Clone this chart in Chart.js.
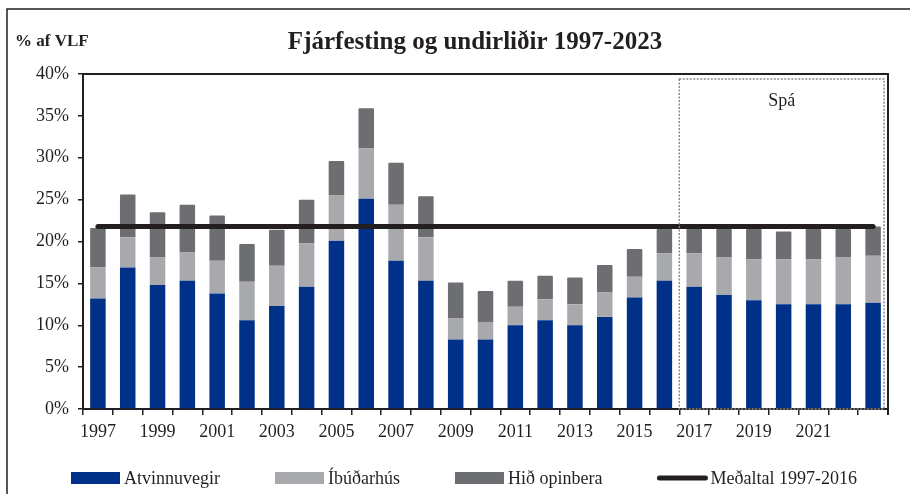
<!DOCTYPE html>
<html>
<head>
<meta charset="utf-8">
<script src="https://cdn.jsdelivr.net/npm/chart.js@4.4.1/dist/chart.umd.min.js"></script>
<style>
  html, body { margin: 0; padding: 0; background: #fff; }
</style>
</head>
<body>
<canvas id="chart" width="910" height="494"></canvas>
<script>
// ---- data (% of GDP) ----
const years = ['1997', '1998', '1999', '2000', '2001', '2002', '2003', '2004', '2005', '2006',
               '2007', '2008', '2009', '2010', '2011', '2012', '2013', '2014', '2015', '2016',
               '2017', '2018', '2019', '2020', '2021', '2022', '2023'];
const atvinnuvegir = [13.2, 16.9, 14.8, 15.3, 13.8, 10.6, 12.3, 14.6, 20.1, 25.1,
                      17.7, 15.3, 8.3, 8.3, 10.0, 10.6, 10.0, 11.0, 13.3, 15.3,
                      14.6, 13.6, 13.0, 12.5, 12.5, 12.5, 12.7];
const ibudarhus = [3.7, 3.6, 3.3, 3.4, 3.9, 4.6, 4.8, 5.2, 5.4, 6.0,
                   6.7, 5.2, 2.5, 2.1, 2.2, 2.5, 2.5, 2.9, 2.5, 3.3,
                   4.0, 4.5, 4.9, 5.4, 5.4, 5.6, 5.6];
const hidOpinbera = [4.7, 5.1, 5.4, 5.7, 5.4, 4.5, 4.3, 5.2, 4.1, 4.8,
                     5.0, 4.9, 4.3, 3.7, 3.1, 2.8, 3.2, 3.3, 3.3, 2.9,
                     2.9, 3.4, 3.6, 3.3, 3.6, 3.4, 3.5];
const medaltal = 21.8;
const forecastStart = '2017';
// year labels shown under the axis (every other year, last one left out)
const xTickLabels = ['1997', '1999', '2001', '2003', '2005', '2007', '2009',
                     '2011', '2013', '2015', '2017', '2019', '2021'];
const yTicks = [0, 5, 10, 15, 20, 25, 30, 35, 40];

const FONT = '"Liberation Serif", "Times New Roman", serif';
const INK = '#231f20';

// title, frame, forecast box and legend
const decorPlugin = {
    id: 'decor',
    beforeDraw(chart) {
        const ctx = chart.ctx;
        ctx.save();
        ctx.fillStyle = '#fff';
        ctx.fillRect(0, 0, chart.width, chart.height);
        // outer frame (only top and left visible)
        ctx.strokeStyle = INK;
        ctx.lineWidth = 1.5;
        ctx.beginPath();
        ctx.moveTo(7, chart.height);
        ctx.lineTo(7, 9);
        ctx.lineTo(chart.width, 9);
        ctx.stroke();
        ctx.restore();
    },
    afterDatasetsDraw(chart) {
        const ctx = chart.ctx;
        const area = chart.chartArea;
        const x = chart.scales.x;
        const i = years.indexOf(forecastStart);
        const left = (x.getPixelForValue(i - 1) + x.getPixelForValue(i)) / 2;
        const right = area.right - 4;
        const top = area.top + 5;
        ctx.save();
        ctx.strokeStyle = '#8a8a8a';
        ctx.lineWidth = 1.5;
        ctx.setLineDash([2, 1.5]);
        ctx.strokeRect(left, top, right - left, area.bottom - top);
        ctx.setLineDash([]);
        ctx.fillStyle = INK;
        ctx.font = '18px ' + FONT;
        ctx.textAlign = 'center';
        ctx.textBaseline = 'middle';
        ctx.fillText('Spá', (left + right) / 2, top + 22);
        ctx.restore();
    },
    afterDraw(chart) {
        const ctx = chart.ctx;
        const area = chart.chartArea;
        ctx.save();
        // plot border top + right
        ctx.strokeStyle = INK;
        ctx.lineWidth = 2;
        ctx.beginPath();
        ctx.moveTo(area.left, area.top);
        ctx.lineTo(area.right, area.top);
        ctx.lineTo(area.right, area.bottom + 6);
        ctx.stroke();

        // titles
        ctx.fillStyle = INK;
        ctx.textBaseline = 'middle';
        ctx.font = 'bold 25px ' + FONT;
        ctx.textAlign = 'center';
        ctx.fillText('Fjárfesting og undirliðir 1997-2023', 475, 43);
        ctx.font = 'bold 17px ' + FONT;
        ctx.textAlign = 'left';
        ctx.fillText('% af VLF', 15, 42);

        // legend
        ctx.font = '18px ' + FONT;
        let lx = 71;
        const ly = 478;
        chart.data.datasets.forEach(ds => {
            if (ds.type === 'line') {
                ctx.strokeStyle = ds.borderColor;
                ctx.lineWidth = 5;
                ctx.lineCap = 'round';
                ctx.beginPath();
                ctx.moveTo(lx + 2, ly);
                ctx.lineTo(lx + 48, ly);
                ctx.stroke();
            } else {
                ctx.fillStyle = ds.backgroundColor;
                ctx.fillRect(lx, ly - 6, 49, 12);
            }
            ctx.fillStyle = INK;
            ctx.fillText(ds.label, lx + 53, ly + 1);
            lx += 53 + ctx.measureText(ds.label).width + 55;
        });
        ctx.restore();
    }
};

const ctx = document.getElementById('chart').getContext('2d');
const chart = new Chart(ctx, {
    type: 'bar',
    data: {
        labels: years,
        datasets: [
            { label: 'Atvinnuvegir', data: atvinnuvegir, backgroundColor: '#003087', order: 1 },
            { label: 'Íbúðarhús', data: ibudarhus, backgroundColor: '#a7a9ac', order: 1 },
            { label: 'Hið opinbera', data: hidOpinbera, backgroundColor: '#6d6e71', order: 1 },
            {
                type: 'line',
                label: 'Meðaltal 1997-2016',
                data: [{ x: years[0], y: medaltal }, { x: years[years.length - 1], y: medaltal }],
                borderColor: INK,
                borderWidth: 5,
                borderCapStyle: 'round',
                pointRadius: 0,
                stack: 'avg',
                order: 0
            }
        ]
    },
    options: {
        responsive: false,
        animation: false,
        datasets: {
            bar: { categoryPercentage: 1, barPercentage: 0.52, borderRadius: 1 }
        },
        layout: { padding: { top: 74, right: 22, bottom: 45, left: 0 } },
        plugins: {
            legend: { display: false },
            title: { display: false },
            tooltip: { enabled: false }
        },
        scales: {
            x: {
                stacked: true,
                afterFit: s => { s.height = 40; },
                grid: { drawOnChartArea: false, offset: true, tickLength: 6, color: INK, lineWidth: 1.5 },
                border: { color: INK, width: 2 },
                ticks: {
                    autoSkip: false,
                    maxRotation: 0,
                    padding: 6,
                    color: INK,
                    font: { family: FONT, size: 18 },
                    callback: (v, i) => (xTickLabels.includes(years[i]) ? years[i] : '')
                }
            },
            y: {
                stacked: true,
                min: yTicks[0],
                max: yTicks[yTicks.length - 1],
                afterFit: s => { s.width = 83; },
                grid: { drawOnChartArea: false, tickLength: 5, color: INK, lineWidth: 1.5 },
                border: { color: INK, width: 2 },
                ticks: {
                    stepSize: 5,
                    padding: 9,
                    color: INK,
                    font: { family: FONT, size: 18 },
                    callback: v => v + '%'
                }
            }
        }
    },
    plugins: [decorPlugin]
});
</script>
</body>
</html>
